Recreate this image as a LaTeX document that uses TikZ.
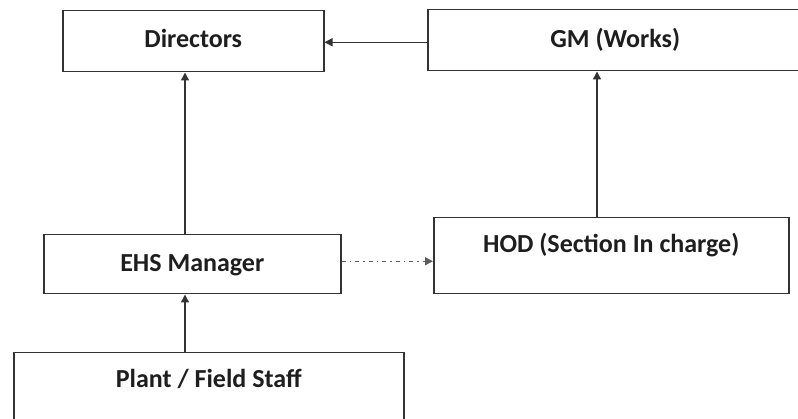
\documentclass[tikz,border=0pt]{standalone}
\usepackage{fontspec}
\setmainfont{Carlito}
\usetikzlibrary{arrows.meta}
\definecolor{boxline}{HTML}{333333}
\definecolor{boxtext}{HTML}{1E1E1E}

\begin{document}
\begin{tikzpicture}[x=1pt,y=-1pt,
  box/.style={draw=boxline,line width=1.5pt,anchor=north west,inner xsep=0pt,inner ysep=0pt,
    font=\fontsize{26}{31}\selectfont\bfseries,text=boxtext},
  arr/.style={boxline,line width=1.4pt,-{Triangle[length=8pt,width=8pt]}}]
  \useasboundingbox (0,0) rectangle (798,419);
  % boxes
  \node[box,minimum width=261pt,text height=37pt,text depth=24pt] (dir) at (62,10) {Directors};
  \node[box,minimum width=375pt,text height=38pt,text depth=23pt] (gm) at (427,9) {GM (Works)};
  \node[box,minimum width=297pt,text height=37pt,text depth=22pt] (ehs) at (43,234) {EHS Manager};
  \node[box,minimum width=355pt,text height=35pt,text depth=41pt] (hod) at (433,217) {HOD (Section In charge)};
  \node[box,minimum width=390pt,text height=35pt,text depth=50pt] (plant) at (13,352) {Plant / Field Staff};
  \coordinate (spine) at (185,0);
  \coordinate (riser) at (597,0);
  % connectors
  \draw[arr] (plant.north -| spine) -- (ehs.south -| spine);
  \draw[arr] (ehs.north -| spine) -- (dir.south -| spine);
  \draw[arr] (hod.north -| riser) -- (gm.south -| riser);
  \draw[arr] ([yshift=-2pt]gm.west) -- ([yshift=-2pt]gm.west -| dir.east);
  \draw[arr,boxline!80,dash pattern=on 4pt off 4pt on 1.5pt off 4pt] ([yshift=3pt]ehs.east) -- ([yshift=3pt]ehs.east -| hod.west);
\end{tikzpicture}
\end{document}
